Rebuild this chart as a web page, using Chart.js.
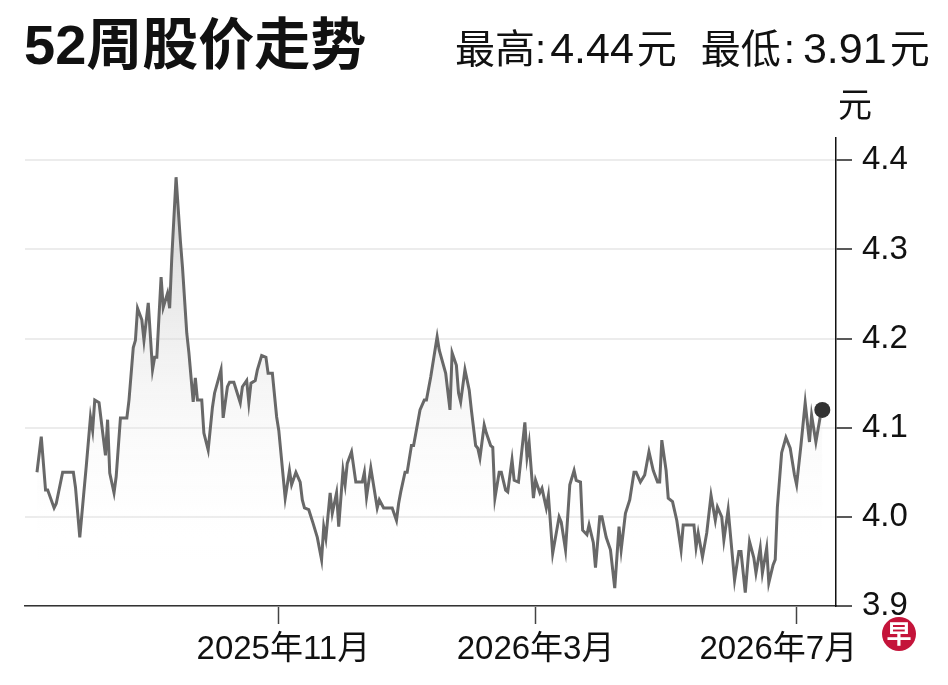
<!DOCTYPE html>
<html>
  <head>
    <meta charset="utf-8" />
    <title>52周股价走势</title>
    <script src="https://cdn.jsdelivr.net/npm/chart.js"></script>
    <style>
      body {
        margin: 0;
        background: #fff;
        font-family: "Liberation Sans", "Noto Sans CJK SC", sans-serif;
        color: #111;
      }
      #wrap {
        position: relative;
        width: 948px;
        height: 685px;
        overflow: hidden;
      }
      #title {
        position: absolute;
        left: 24px;
        top: 17px;
        font-size: 56px;
        font-weight: bold;
        line-height: 1;
        white-space: nowrap;
      }
      #range {
        position: absolute;
        left: 455px;
        top: 27px;
        font-size: 40px;
        line-height: 1;
        white-space: nowrap;
      }
      #range .num {
        font-size: 43px;
      }
      #unit {
        position: absolute;
        left: 838px;
        top: 88px;
        font-size: 34px;
        line-height: 1;
      }
      #logo {
        position: absolute;
        left: 882px;
        top: 617px;
        width: 34px;
        height: 34px;
        border-radius: 50%;
        background: #c4143a;
        color: #fff;
        font-size: 25px;
        font-weight: bold;
        line-height: 34px;
        text-align: center;
      }
      canvas {
        position: absolute;
        left: 0;
        top: 0;
      }
    </style>
  </head>
  <body>
    <div id="wrap">
      <canvas id="priceChart" width="948" height="685"></canvas>
      <div id="title">52周股价走势</div>
      <div id="range"><span>最高</span><span>:</span><span class="num" style="margin-left:4px">4.44</span><span style="margin-left:3px">元</span><span style="margin-left:24px">最低</span><span style="margin-left:3px">:</span><span class="num" style="margin-left:8px">3.91</span><span style="margin-left:3px">元</span></div>
      <div id="unit">元</div>
      <div id="logo">早</div>
    </div>

    <script>
      // 天数（自2025年7月11日起）和收盘价
      const tradeDays = [
        0, 2, 4, 5, 8, 9, 12, 13, 17, 18,
        20, 22, 23, 25, 26, 27, 29, 32, 33, 34,
        36, 37, 39, 42, 43, 45, 46, 47, 49, 50,
        52, 54, 55, 56, 58, 59, 61, 62, 63, 65,
        67, 68, 70, 71, 73, 74, 75, 77, 78, 80,
        82, 83, 86, 87, 89, 90, 92, 95, 96, 98,
        99, 100, 102, 103, 105, 107, 108, 110, 112, 113,
        116, 118, 119, 121, 123, 124, 125, 127, 129, 131,
        133, 134, 135, 137, 138, 140, 141, 143, 144, 145,
        147, 149, 152, 153, 154, 156, 159, 160, 162, 166,
        168, 169, 170, 172, 173, 175, 176, 179, 181, 182,
        184, 187, 188, 191, 193, 194, 196, 197, 198, 200,
        202, 203, 205, 206, 207, 209, 210, 212, 213, 214,
        216, 217, 219, 220, 222, 223, 225, 228, 229, 230,
        232, 233, 235, 236, 238, 239, 241, 244, 245, 247,
        249, 251, 252, 254, 255, 257, 258, 260, 261, 263,
        264, 266, 268, 270, 272, 273, 275, 277, 279, 280,
        282, 284, 286, 288, 290, 291, 292, 294, 295, 297,
        299, 301, 302, 307, 308, 309, 311, 313, 315, 317,
        318, 320, 321, 323, 326, 328, 329, 331, 333, 335,
        336, 338, 339, 341, 342, 344, 345, 346, 348, 350,
        352, 354, 355, 357, 359, 361, 362, 364, 366, 367,
      ];
      const closePrices = [
        4.05, 4.09, 4.03, 4.03, 4.01, 4.015, 4.05, 4.05, 4.05, 4.033,
        3.977, 4.03, 4.056, 4.112, 4.097, 4.131, 4.128, 4.069, 4.109, 4.049,
        4.027, 4.045, 4.111, 4.111, 4.131, 4.19, 4.198, 4.234, 4.221, 4.198,
        4.24, 4.165, 4.179, 4.179, 4.269, 4.235, 4.251, 4.234, 4.291, 4.381,
        4.31, 4.28, 4.206, 4.184, 4.129, 4.156, 4.131, 4.131, 4.094, 4.075,
        4.123, 4.139, 4.165, 4.111, 4.146, 4.151, 4.151, 4.128, 4.146, 4.153,
        4.128, 4.15, 4.153, 4.165, 4.181, 4.179, 4.161, 4.161, 4.112, 4.097,
        4.021, 4.052, 4.036, 4.05, 4.039, 4.019, 4.01, 4.008, 3.993, 3.977,
        3.952, 3.989, 3.976, 4.027, 4.004, 4.027, 3.989, 4.052, 4.036, 4.06,
        4.073, 4.039, 4.039, 4.05, 4.022, 4.055, 4.01, 4.019, 4.01, 4.01,
        3.996, 4.015, 4.028, 4.05, 4.05, 4.08, 4.08, 4.12, 4.131, 4.131,
        4.157, 4.202, 4.187, 4.161, 4.12, 4.184, 4.17, 4.139, 4.129, 4.165,
        4.142, 4.12, 4.08, 4.077, 4.066, 4.103, 4.094, 4.08, 4.078, 4.021,
        4.05, 4.05, 4.03, 4.028, 4.064, 4.041, 4.039, 4.106, 4.067, 4.083,
        4.021, 4.041, 4.027, 4.032, 4.01, 4.024, 3.959, 4.0, 3.994, 3.963,
        4.036, 4.052, 4.041, 4.039, 3.985, 3.98, 3.991, 3.971, 3.943, 4.0,
        4.0, 3.977, 3.963, 3.92, 3.989, 3.963, 4.004, 4.019, 4.05, 4.05,
        4.039, 4.047, 4.073, 4.052, 4.039, 4.039, 4.086, 4.052, 4.021, 4.017,
        3.996, 3.963, 3.991, 3.991, 3.966, 3.982, 3.955, 3.982, 4.024, 3.996,
        4.011, 4.0, 3.974, 4.008, 3.929, 3.961, 3.961, 3.915, 3.972, 3.954,
        3.937, 3.965, 3.937, 3.965, 3.926, 3.946, 3.952, 4.011, 4.072, 4.089,
        4.077, 4.047, 4.036, 4.08, 4.128, 4.084, 4.114, 4.084, 4.112, 4.12,
      ];

      // x轴刻度（11月1日、3月1日、7月1日）
      const tickDays = [113, 233, 355];
      const tickLabels = ["2025年11月", "2026年3月", "2026年7月"];
      // y轴刻度
      const priceTicks = [3.9, 4.0, 4.1, 4.2, 4.3, 4.4];

      const points = tradeDays.map((d, i) => ({ x: d, y: closePrices[i] }));
      const lastIndex = points.length - 1;

      // 标签与刻度的偏移（原图最后一个标签向左收）
      const labelPad = ["\u00a0", "", "\u00a0\u00a0\u00a0\u00a0"];

      const tickFont = '"Liberation Sans", "Noto Sans CJK SC", sans-serif';

      const ctx = document.getElementById("priceChart").getContext("2d");
      new Chart(ctx, {
        type: "line",
        data: {
          datasets: [
            {
              data: points,
              borderColor: "#686868",
              borderWidth: 3,
              tension: 0,
              fill: "start",
              backgroundColor: (context) => {
                const { ctx, chartArea } = context.chart;
                if (!chartArea) return "rgba(0,0,0,0)";
                const g = ctx.createLinearGradient(0, chartArea.top, 0, 560);
                g.addColorStop(0, "rgba(185,185,185,0.8)");
                g.addColorStop(1, "rgba(255,255,255,0)");
                return g;
              },
              pointRadius: (c) => (c.dataIndex === lastIndex ? 8 : 0),
              pointHoverRadius: 0,
              pointBackgroundColor: "#333",
              pointBorderWidth: 0,
            },
          ],
        },
        options: {
          responsive: false,
          animation: false,
          layout: { padding: { left: 25, top: 138, right: 0, bottom: 0 } },
          plugins: {
            legend: { display: false },
            tooltip: { enabled: false },
          },
          scales: {
            x: {
              type: "linear",
              min: -5.6,
              max: 373.4,
              afterBuildTicks: (scale) => {
                scale.ticks = tickDays.map((v) => ({ value: v }));
              },
              afterFit: (scale) => {
                scale.height = 79;
              },
              grid: {
                drawOnChartArea: false,
                tickLength: 18,
                tickColor: "#444",
                tickWidth: 1.5,
              },
              border: { display: true, color: "#333", width: 1.5 },
              ticks: {
                autoSkip: false,
                maxRotation: 0,
                padding: 6,
                color: "#111",
                font: { family: tickFont, size: 33 },
                callback: (value, index) =>
                  index === 0
                    ? labelPad[0] + tickLabels[0]
                    : tickLabels[index] + labelPad[index],
              },
            },
            y: {
              position: "right",
              min: 3.9,
              max: 4.425,
              afterBuildTicks: (scale) => {
                scale.ticks = priceTicks.map((v) => ({ value: v }));
              },
              afterFit: (scale) => {
                scale.width = 112;
              },
              grid: {
                color: "#ececec",
                lineWidth: 2,
                tickLength: 16,
                tickColor: "#222",
                tickWidth: 1.5,
              },
              border: { display: true, color: "#111", width: 1.5 },
              ticks: {
                padding: 10,
                color: "#111",
                font: { family: tickFont, size: 33 },
                callback: (value) => value.toFixed(1),
              },
            },
          },
        },
      });
    </script>
  </body>
</html>
